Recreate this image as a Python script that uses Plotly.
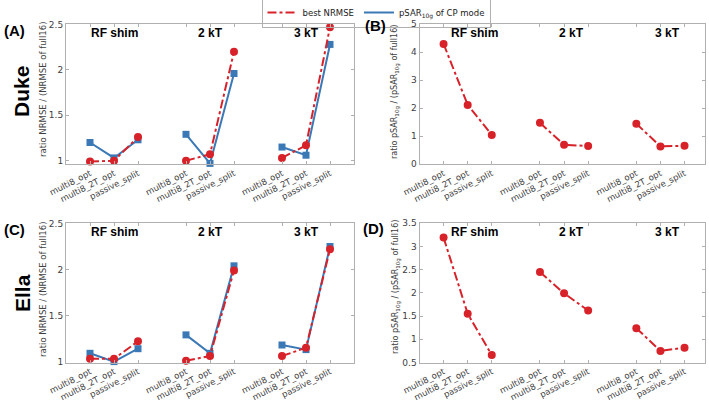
import plotly.graph_objects as go

# ---------------- data ----------------
x_pos = [1, 2, 3, 5, 6, 7, 9, 10, 11]
tick_labels = ["multi8_opt", "multi8_2T_opt", "passive_split"] * 3
groups = ["RF shim", "2 kT", "3 kT"]
group_x = [2, 6, 10]

# Duke
duke_nrmse_best = [0.99, 1.00, 1.26, 1.00, 1.07, 2.20, 1.03, 1.17, 2.47]
duke_nrmse_cp = [1.20, 1.03, 1.23, 1.29, 0.97, 1.96, 1.15, 1.06, 2.28]
duke_psar_best = [4.30, 2.12, 1.05, 1.48, 0.70, 0.65, 1.45, 0.64, 0.66]
# Ella
ella_nrmse_best = [1.03, 1.03, 1.22, 1.01, 1.06, 1.99, 1.06, 1.15, 2.22]
ella_nrmse_cp = [1.09, 1.00, 1.14, 1.29, 1.09, 2.04, 1.18, 1.13, 2.25]
ella_psar_best = [3.19, 1.55, 0.66, 2.45, 1.99, 1.62, 1.24, 0.75, 0.82]

RED = "#d7222a"
BLUE = "#3b78b6"
W, H = 709, 403

fig = go.Figure()


def segs(vals):
    # split into groups of 3 with None gaps so lines don't connect groups
    xs, ys = [], []
    for g in range(3):
        xs += x_pos[3 * g:3 * g + 3] + [None]
        ys += vals[3 * g:3 * g + 3] + [None]
    return xs, ys


def add_red(vals, xa, ya):
    xs, ys = segs(vals)
    fig.add_trace(go.Scatter(x=xs, y=ys, xaxis=xa, yaxis=ya, mode="lines+markers",
                             line=dict(color=RED, width=2, dash="dashdot"),
                             marker=dict(symbol="circle", size=8, color=RED),
                             cliponaxis=False, showlegend=False))


def add_blue(vals, xa, ya):
    xs, ys = segs(vals)
    fig.add_trace(go.Scatter(x=xs, y=ys, xaxis=xa, yaxis=ya, mode="lines+markers",
                             line=dict(color=BLUE, width=2),
                             marker=dict(symbol="square", size=7, color=BLUE),
                             cliponaxis=False, showlegend=False))


add_blue(duke_nrmse_cp, "x", "y")
add_red(duke_nrmse_best, "x", "y")
add_red(duke_psar_best, "x2", "y2")
add_blue(ella_nrmse_cp, "x3", "y3")
add_red(ella_nrmse_best, "x3", "y3")
add_red(ella_psar_best, "x4", "y4")

# legend-only entries (lines only)
fig.add_trace(go.Scatter(x=[None], y=[None], mode="lines", name="best NRMSE",
                         line=dict(color=RED, width=2, dash="dashdot")))
fig.add_trace(go.Scatter(x=[None], y=[None], mode="lines", name="pSAR<sub>10g</sub> of CP mode",
                         line=dict(color=BLUE, width=2)))

px = lambda p: p / W
py = lambda p: 1 - p / H

dom_x_left = [px(66), px(354)]
dom_x_right = [px(419.5), px(705)]
dom_y_top = [py(164.3), py(24)]
dom_y_bot = [py(362.5), py(223)]

xtickfont = dict(family="DejaVu Sans", size=8.5, color="#404040")
ytickfont = dict(family="DejaVu Sans", size=9, color="#404040")
common_x = dict(tickvals=x_pos, ticktext=tick_labels, tickangle=-27, showgrid=False,
                zeroline=False, showline=True, linecolor="#b0b0b0", linewidth=1,
                mirror="ticks", ticks="inside", ticklen=3, tickcolor="#b0b0b0",
                tickfont=xtickfont, automargin=False, ticklabeloverflow="allow")
common_y = dict(showgrid=False, zeroline=False, showline=True, linecolor="#b0b0b0",
                linewidth=1, mirror="ticks", ticks="inside", ticklen=3, tickcolor="#b0b0b0",
                tickfont=ytickfont, automargin=False, ticklabeloverflow="allow")

fig.update_layout(
    width=W, height=H, margin=dict(l=0, r=0, t=0, b=0, autoexpand=False),
    paper_bgcolor="white", plot_bgcolor="white",
    xaxis=dict(domain=dom_x_left, range=[0, 12], anchor="y", **common_x),
    yaxis=dict(domain=dom_y_top, range=[0.96, 2.505], anchor="x", tickvals=[1, 1.5, 2, 2.5],
               ticktext=["1", "1.5", "2", "2.5"], **common_y),
    xaxis2=dict(domain=dom_x_right, range=[0, 11.85], anchor="y2", **common_x),
    yaxis2=dict(domain=dom_y_top, range=[0, 5.01], anchor="x2", tickvals=[0, 1, 2, 3, 4, 5],
                ticktext=["0", "1", "2", "3", "4", "5"], **common_y),
    xaxis3=dict(domain=dom_x_left, range=[0, 12], anchor="y3", **common_x),
    yaxis3=dict(domain=dom_y_bot, range=[0.99, 2.505], anchor="x3", tickvals=[1, 1.5, 2, 2.5],
                ticktext=["1", "1.5", "2", "2.5"], **common_y),
    xaxis4=dict(domain=dom_x_right, range=[0, 11.85], anchor="y4", **common_x),
    yaxis4=dict(domain=dom_y_bot, range=[0.5, 3.505], anchor="x4",
                tickvals=[0.5, 1, 1.5, 2, 2.5, 3, 3.5],
                ticktext=["0.5", "1", "1.5", "2", "2.5", "3", "3.5"], **common_y),
    legend=dict(orientation="h", x=px(376), xanchor="center", y=1.0075, yanchor="top",
                font=dict(family="DejaVu Sans", size=8.5, color="#222222"),
                bordercolor="#b0b0b0", borderwidth=1, bgcolor="rgba(255,255,255,0)",
                itemwidth=30, tracegroupgap=0),
    showlegend=True,
)

# y-axis titles
nrmse_font = dict(family="DejaVu Sans", size=8.5, color="#404040")
psar_font = dict(family="DejaVu Sans", size=8, color="#404040")
nrmse_title = "ratio NRMSE / (NRMSE of full16)"
psar_title = "ratio pSAR<sub>10g</sub> / (pSAR<sub>10g</sub> of full16)"
for txt, x, y, f in [(nrmse_title, 43, 90, nrmse_font), (psar_title, 396, 92, psar_font),
                     (nrmse_title, 43, 290, nrmse_font), (psar_title, 396, 287, psar_font)]:
    fig.add_annotation(x=px(x), y=py(y), xref="paper", yref="paper", text=txt,
                       textangle=-90, showarrow=False, font=f,
                       xanchor="center", yanchor="middle")

# group titles
title_font = dict(family="Liberation Sans", size=12, color="black")
for xa, ya, shift in [("x", "y", 0), ("x2", "y2", 7), ("x3", "y3", 0), ("x4", "y4", 7)]:
    for g, gx in zip(groups, group_x):
        fig.add_annotation(x=gx, xref=xa, y=0.935, yref=ya + " domain", text="<b>%s</b>" % g,
                           showarrow=False, xshift=shift, font=title_font,
                           xanchor="center", yanchor="middle")

# panel labels
label_font = dict(family="Liberation Sans", size=15, color="black")
for txt, x, y in [("(A)", 14, 31), ("(B)", 376, 26), ("(C)", 14, 230), ("(D)", 374, 228)]:
    fig.add_annotation(x=px(x), y=py(y), xref="paper", yref="paper", text="<b>%s</b>" % txt,
                       showarrow=False, font=label_font, xanchor="center", yanchor="middle")

# subject labels
subj_font = dict(family="Liberation Sans", size=21, color="black")
for txt, y in [("Duke", 92), ("Ella", 293)]:
    fig.add_annotation(x=px(22), y=py(y), xref="paper", yref="paper", text="<b>%s</b>" % txt,
                       textangle=-90, showarrow=False, font=subj_font,
                       xanchor="center", yanchor="middle")

fig.write_html("out.html")
